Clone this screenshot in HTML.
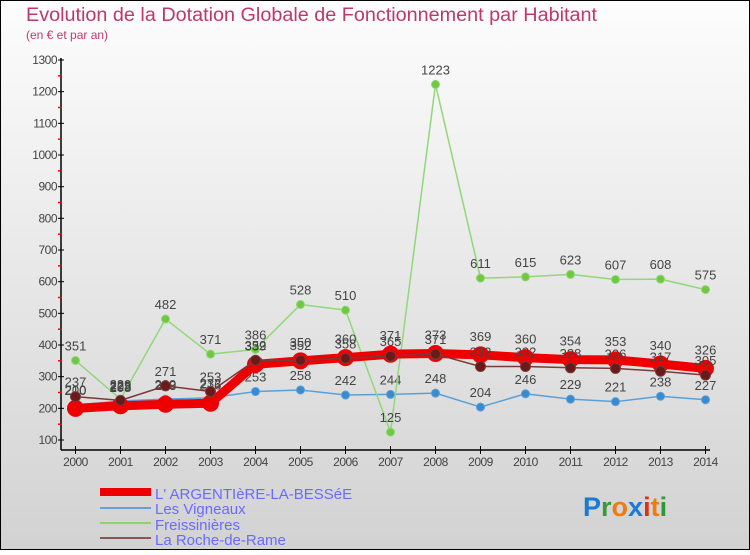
<!DOCTYPE html>
<html><head><meta charset="utf-8"><style>
html,body{margin:0;padding:0}
body{width:750px;height:550px;overflow:hidden;font-family:"Liberation Sans",sans-serif}
</style></head><body>
<svg id="chart" width="750" height="550" xmlns="http://www.w3.org/2000/svg">
<defs><linearGradient id="bg" x1="0" y1="0" x2="0" y2="1"><stop offset="0" stop-color="#fdfdfd"/><stop offset="1" stop-color="#d2d2d2"/></linearGradient></defs>
<rect x="0.5" y="0.5" width="749" height="549" fill="url(#bg)" stroke="#000"/>
<text x="26" y="21" font-size="19" fill="#c0386a" textLength="571" lengthAdjust="spacingAndGlyphs">Evolution de la Dotation Globale de Fonctionnement par Habitant</text>
<text x="26" y="39" font-size="12" fill="#c0386a">(en € et par an)</text>
<g id="axes"></g>
<g id="series"></g>
<g id="legend">
<rect x="100" y="488" width="51" height="8" fill="#e00"/>
<text x="155" y="499" font-size="15" fill="#6a6aff">L' ARGENTIèRE-LA-BESSéE</text>
<rect x="100" y="507" width="51" height="2" fill="#6aa0d0"/>
<text x="155" y="514" font-size="15" fill="#6a6aff">Les Vigneaux</text>
<rect x="100" y="522" width="51" height="2" fill="#90d070"/>
<text x="155" y="530" font-size="15" fill="#6a6aff">Freissinières</text>
<rect x="100" y="537" width="51" height="2" fill="#8a5555"/>
<text x="155" y="545" font-size="15" fill="#6a6aff">La Roche-de-Rame</text>
</g>
<g font-size="27" font-weight="bold">
<text x="583" y="516"><tspan fill="#1a7ad8">P</tspan><tspan fill="#3a9a3a">r</tspan><tspan fill="#f07a10">o</tspan><tspan fill="#1a7ad8">x</tspan><tspan fill="#e03010">i</tspan><tspan fill="#f07a10">t</tspan><tspan fill="#2a9a3a">i</tspan></text>
</g>
</svg>
<script>
const years=[2000,2001,2002,2003,2004,2005,2006,2007,2008,2009,2010,2011,2012,2013,2014];
const argentiere=[200,208,213,216,339,350,360,371,373,369,360,354,353,340,326];
const vigneaux=[210,223,229,233,253,258,242,244,248,204,246,229,221,238,227];
const freissinieres=[351,229,482,371,386,528,510,125,1223,611,615,623,607,608,575];
const roche=[237,225,271,253,352,352,358,365,371,332,332,328,326,317,305];
const yTicks=[100,200,300,400,500,600,700,800,900,1000,1100,1200,1300];
const NS="http://www.w3.org/2000/svg";
const X=i=>75.5+i*(705.5-75.5)/(years.length-1);
const Y=v=>440-(v-100)*380/1200;
function mk(t,a,p){const e=document.createElementNS(NS,t);for(const k in a)e.setAttribute(k,a[k]);p.appendChild(e);return e;}
const ax=document.getElementById('axes');
mk('line',{x1:61,y1:58,x2:61,y2:450,stroke:'#000','stroke-width':1.5},ax);
mk('line',{x1:61,y1:450,x2:710,y2:450,stroke:'#000','stroke-width':1.5},ax);
yTicks.forEach(v=>{
 mk('line',{x1:58,y1:Y(v),x2:64,y2:Y(v),stroke:'#000'},ax);
 const t=mk('text',{x:57,y:Y(v)+4,'font-size':12,fill:'#444','text-anchor':'end','letter-spacing':'-0.5'},ax);t.textContent=v;
 
 
 if(v<1300) mk('line',{x1:58,y1:Y(v+50),x2:62,y2:Y(v+50),stroke:'#f00','stroke-width':1.5},ax);
});
years.forEach((y,i)=>{
 mk('line',{x1:X(i),y1:446,x2:X(i),y2:454,stroke:'#000'},ax);
 const t=mk('text',{x:X(i),y:466,'font-size':12,fill:'#444','text-anchor':'middle','letter-spacing':'-0.5'},ax);t.textContent=y;
 
 
});
const sg=document.getElementById('series');
function draw(name,vals,col,w,r,dot,labelDy){
 const g=mk('g',{},sg);
 
 
 mk('polyline',{points:vals.map((v,i)=>X(i)+','+Y(v)).join(' '),fill:'none',stroke:col,'stroke-width':w,'stroke-linejoin':'round'},g);
 vals.forEach((v,i)=>{
  const c=mk('circle',{cx:X(i),cy:Y(v),r:r,fill:dot,stroke:col,'stroke-width':1},g);
  
  
  const t=mk('text',{x:X(i),y:Y(v)+labelDy,'font-size':13,fill:'#444','text-anchor':'middle'},g);t.textContent=v;
  
  
 });
}
draw('series-vigneaux',vigneaux,'#5aa0d8',1.5,4,'#3a8ad0',-10);
draw('series-freissinieres',freissinieres,'#90d878',1.5,4,'#70c840',-10);
draw('series-argentiere',argentiere,'#ee0000',9,8,'#ee0000',-14);
draw('series-roche',roche,'#7a3a3a',1.5,5,'#6a1a1a',-10);
</script>
</body></html>
